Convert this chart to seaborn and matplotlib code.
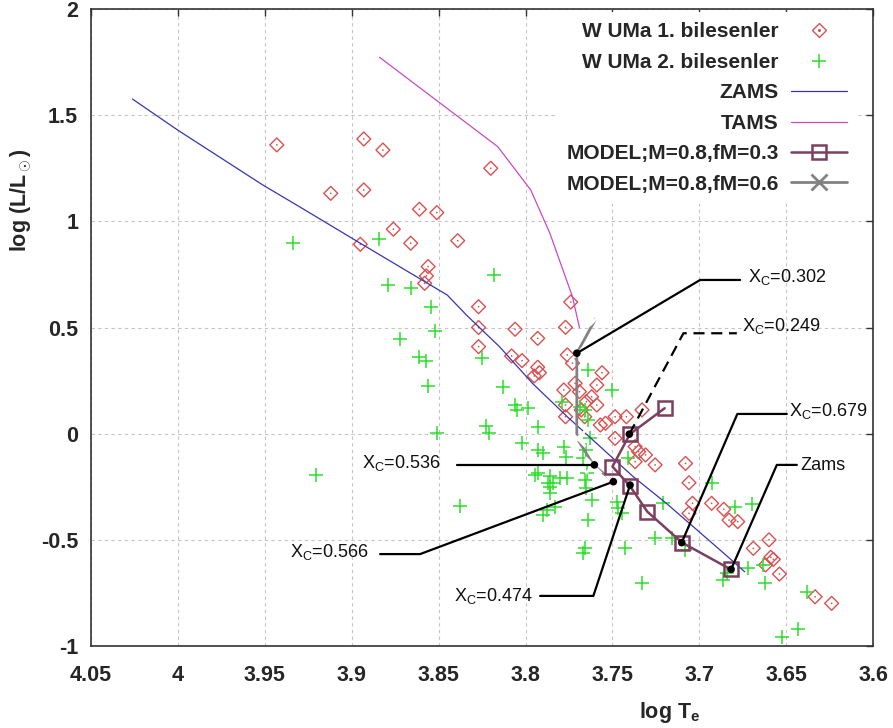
import numpy as np
import pandas as pd
import matplotlib
matplotlib.use("Agg")
import matplotlib.pyplot as plt
import seaborn as sns
from matplotlib.lines import Line2D
from matplotlib.legend_handler import HandlerTuple
from matplotlib.ticker import FuncFormatter, MultipleLocator

# ---------------- data ----------------
prim_logT = [3.943, 3.893, 3.882, 3.912, 3.893, 3.861, 3.851, 3.820, 3.876, 3.866,
             3.839, 3.895, 3.856, 3.857, 3.858, 3.827, 3.827, 3.827, 3.774, 3.777,
             3.806, 3.793, 3.808, 3.802, 3.793, 3.792, 3.795, 3.776, 3.773, 3.756,
             3.759, 3.7715, 3.778, 3.769, 3.762, 3.765, 3.759, 3.777, 3.768, 3.777,
             3.766, 3.757, 3.754, 3.7485, 3.742, 3.733, 3.7485, 3.737, 3.735, 3.731,
             3.737, 3.7255, 3.708, 3.706, 3.704, 3.706, 3.693, 3.686, 3.683, 3.678,
             3.660, 3.669, 3.659, 3.6575, 3.662, 3.654, 3.6335, 3.624]
prim_logL = [1.36, 1.388, 1.336, 1.132, 1.148, 1.057, 1.041, 1.25, 0.963, 0.897,
             0.909, 0.892, 0.787, 0.743, 0.708, 0.598, 0.50, 0.41, 0.62, 0.501,
             0.492, 0.449, 0.366, 0.344, 0.313, 0.287, 0.272, 0.371, 0.332, 0.287,
             0.229, 0.237, 0.206, 0.198, 0.174, 0.151, 0.135, 0.135, 0.112, 0.08,
             0.08, 0.041, 0.049, 0.08, 0.08, 0.112, -0.022, -0.061, -0.085, -0.10,
             -0.132, -0.147, -0.14, -0.231, -0.328, -0.375, -0.328, -0.356, -0.407, -0.414,
             -0.50, -0.54, -0.582, -0.592, -0.618, -0.661, -0.768, -0.799]

sec_logT = [3.9335, 3.884, 3.879, 3.866, 3.8543, 3.852, 3.872, 3.861, 3.857, 3.856,
            3.818, 3.825, 3.851, 3.823, 3.821, 3.9205, 3.8377, 3.8127, 3.806, 3.805,
            3.7987, 3.7926, 3.802, 3.7926, 3.790, 3.778, 3.7945, 3.786, 3.780, 3.776,
            3.786, 3.7657, 3.765, 3.765, 3.767, 3.764, 3.7686, 3.7878, 3.783, 3.790,
            3.764, 3.7657, 3.767, 3.7504, 3.779, 3.7638, 3.763, 3.7408, 3.7648, 3.7859,
            3.7475, 3.7207, 3.693, 3.670, 3.6795, 3.7466, 3.7447, 3.7427, 3.7255, 3.716,
            3.7082, 3.733, 3.6843, 3.6862, 3.6718, 3.6632, 3.6622, 3.6383, 3.6434, 3.6526,
            3.784, 3.777, 3.7615, 3.766, 3.7926, 3.787]
sec_logL = [0.897, 0.919, 0.699, 0.686, 0.595, 0.484, 0.446, 0.363, 0.344, 0.226,
            0.746, 0.355, 0.002, 0.036, 0.005, -0.195, -0.34, 0.218, 0.135, 0.112,
            0.12, 0.033, -0.042, -0.077, -0.092, -0.061, -0.195, -0.20, -0.21, -0.21,
            -0.25, -0.218, -0.256, -0.077, -0.116, 0.30, 0.127, -0.36, -0.347, -0.383,
            -0.407, -0.54, -0.563, 0.206, 0.151, 0.065, -0.022, -0.116, -0.187, -0.281,
            -0.32, -0.328, -0.23, -0.33, -0.344, -0.351, -0.375, -0.54, -0.493, -0.493,
            -0.548, -0.705, -0.658, -0.689, -0.634, -0.618, -0.705, -0.744, -0.921, -0.956,
            -0.234, -0.108, -0.312, 0.112, -0.187, -0.234]

zams_logT = [4.026, 4.000, 3.951, 3.930, 3.895, 3.845, 3.834, 3.815, 3.796, 3.776,
             3.738, 3.719, 3.686, 3.674]
zams_logL = [1.576, 1.43, 1.171, 1.069, 0.897, 0.653, 0.559, 0.41, 0.237, 0.08,
             -0.203, -0.328, -0.563, -0.65]

tams_logT = [3.884, 3.816, 3.797, 3.786, 3.773, 3.769]
tams_logL = [1.773, 1.352, 1.148, 0.944, 0.645, 0.50]

m03_logT = [3.682, 3.710, 3.730, 3.740, 3.750, 3.740, 3.720]
m03_logL = [-0.639, -0.513, -0.367, -0.246, -0.155, -0.002, 0.12]

m06_logT = [3.7495, 3.761, 3.7705, 3.7705, 3.759]
m06_logL = [-0.226, -0.147, -0.02, 0.379, 0.551]

xc_labels = ["X$_\\mathrm{C}$=0.302", "X$_\\mathrm{C}$=0.249", "X$_\\mathrm{C}$=0.679", "Zams",
             "X$_\\mathrm{C}$=0.536", "X$_\\mathrm{C}$=0.566", "X$_\\mathrm{C}$=0.474"]
xc_logT = [3.7705, 3.7403, 3.7102, 3.6818, 3.7604, 3.7495, 3.7399]
xc_logL = [0.379, -0.002, -0.513, -0.639, -0.147, -0.226, -0.242]

legend_labels = ["W UMa 1. bilesenler", "W UMa 2. bilesenler", "ZAMS", "TAMS",
                 "MODEL;M=0.8,fM=0.3", "MODEL;M=0.8,fM=0.6"]

# ---------------- layout of the annotation leaders (elbow, end, text anchor, align, style) ----
leader_layout = [
    ((3.6996, 0.724), 3.6766, (3.672, 0.74), "left", "-"),
    ((3.7092, 0.473), 3.6785, (3.6755, 0.505), "left", "--"),
    ((3.6782, 0.093), 3.6498, (3.6485, 0.108), "left", "-"),
    ((3.6555, -0.147), 3.644, (3.642, -0.152), "left", "-"),
    (None, 3.8395, (3.849, -0.138), "right", "-"),
    ((3.8606, -0.567), 3.8836, (3.890, -0.556), "right", "-"),
    ((3.761, -0.764), 3.7916, (3.7957, -0.766), "right", "-"),
]

# ---------------- styling ----------------
sns.set_theme(style="white")
plt.rcParams['font.family'] = ['Liberation Sans', 'DejaVu Sans']
plt.rcParams['mathtext.fontset'] = 'custom'
plt.rcParams['mathtext.rm'] = 'Liberation Sans'
plt.rcParams['mathtext.it'] = 'Liberation Sans:italic'
plt.rcParams['mathtext.bf'] = 'Liberation Sans:bold'

C_PRIM = "#dc5050"
C_SEC = "#2adf2a"
C_ZAMS = "#3535b5"
C_TAMS = "#c84ac8"
C_M03 = "#7d3f5e"
C_M06 = "#828282"

fig = plt.figure(figsize=(8.93, 7.28), dpi=100)
ax = fig.add_axes([0.1016, 0.1126, 0.8764, 0.875])

prim = pd.DataFrame({"logT": prim_logT, "logL": prim_logL})
sec = pd.DataFrame({"logT": sec_logT, "logL": sec_logL})
zams = pd.DataFrame({"logT": zams_logT, "logL": zams_logL})
tams = pd.DataFrame({"logT": tams_logT, "logL": tams_logL})
m03 = pd.DataFrame({"logT": m03_logT, "logL": m03_logL})
m06 = pd.DataFrame({"logT": m06_logT, "logL": m06_logL})
xc = pd.DataFrame({"logT": xc_logT, "logL": xc_logL})

sns.scatterplot(data=prim, x="logT", y="logL", marker="D", s=50, facecolor="none",
                edgecolor=C_PRIM, linewidth=1.0, ax=ax, zorder=3)
sns.scatterplot(data=prim, x="logT", y="logL", marker="o", s=1.5, color=C_PRIM,
                edgecolor="none", linewidth=0, ax=ax, zorder=3)
sns.scatterplot(data=sec, x="logT", y="logL", marker="+", s=100, color=C_SEC,
                edgecolor=None, linewidth=1.1, ax=ax, zorder=3)

sns.lineplot(data=zams, x="logT", y="logL", sort=False, estimator=None, color=C_ZAMS,
             lw=0.9, ax=ax, zorder=3)
sns.lineplot(data=tams, x="logT", y="logL", sort=False, estimator=None, color=C_TAMS,
             lw=0.9, ax=ax, zorder=3)
sns.lineplot(data=m06, x="logT", y="logL", sort=False, estimator=None, color=C_M06,
             lw=2.0, marker="x", markersize=11, markeredgewidth=2.0, ax=ax, zorder=4)
sns.lineplot(data=m03, x="logT", y="logL", sort=False, estimator=None, color=C_M03,
             lw=1.8, marker="s", markersize=10, markerfacecolor="none",
             markeredgecolor=C_M03, markeredgewidth=1.8, ax=ax, zorder=4)

# annotation leaders
for (lab, T, L, lay) in zip(xc_labels, xc_logT, xc_logL, leader_layout):
    elbow, xend, txy, ha, ls = lay
    if elbow is None:
        xs, ys = [T, xend], [L, L]
    else:
        xs, ys = [T, elbow[0], xend], [L, elbow[1], elbow[1]]
    ax.plot(xs, ys, color="black", lw=1.6, ls=(0, (5, 3)) if ls == "--" else "-", zorder=5)
    ax.text(txy[0], txy[1], lab, ha=ha, va="center", fontsize=13, color="#111111", zorder=6)

sns.scatterplot(data=xc, x="logT", y="logL", marker="o", s=30, color="black",
                edgecolor="none", ax=ax, zorder=7)

# axes
ax.set_xlim(4.05, 3.6)
ax.set_ylim(-1, 2)
ax.xaxis.set_major_locator(MultipleLocator(0.05))
ax.yaxis.set_major_locator(MultipleLocator(0.5))
fmt = FuncFormatter(lambda v, p: "%g" % round(v, 3))
ax.xaxis.set_major_formatter(fmt)
ax.yaxis.set_major_formatter(fmt)
ax.grid(True, color="#c4c4c4", ls=(0, (3, 3)), lw=0.8)
ax.tick_params(axis="both", direction="in", length=5, width=1, color="#333333",
               top=True, right=True, labelsize=15.5)
ax.tick_params(axis="x", pad=14)
ax.tick_params(axis="y", pad=9)
for t in ax.get_xticklabels() + ax.get_yticklabels():
    t.set_fontweight("bold")
for s in ax.spines.values():
    s.set_color("#333333")
    s.set_linewidth(1.2)

ax.set_xlabel(r"log T$_\mathbf{e}$", fontsize=15.5, fontweight="bold")
ax.set_ylabel(r"log (L/L$_\odot$)", fontsize=15.5, fontweight="bold")
ax.xaxis.set_label_coords(0.74, -0.085)
ax.yaxis.set_label_coords(-0.072, 0.70)

# legend
h1 = (Line2D([], [], ls="", marker="D", ms=7, mfc="none", mec=C_PRIM, mew=1.0),
      Line2D([], [], ls="", marker="o", ms=1.2, color=C_PRIM))
h2 = Line2D([], [], ls="", marker="+", ms=10, mec=C_SEC, mew=1.1)
h3 = Line2D([], [], color=C_ZAMS, lw=0.9)
h4 = Line2D([], [], color=C_TAMS, lw=0.9)
h5 = Line2D([], [], color=C_M03, lw=1.8, marker="s", ms=10, mfc="none", mec=C_M03, mew=1.8)
h6 = Line2D([], [], color=C_M06, lw=2.0, marker="x", ms=11, mec=C_M06, mew=2.0)
leg = ax.legend([h1, h2, h3, h4, h5, h6], legend_labels,
                handler_map={tuple: HandlerTuple(ndivide=1)},
                loc="upper right", bbox_to_anchor=(857 / 893, 716 / 728),
                bbox_transform=fig.transFigure, borderaxespad=0, markerfirst=False,
                frameon=True, facecolor="white", edgecolor="none", framealpha=1,
                fancybox=False, borderpad=0.5, handlelength=2.65, handletextpad=0.6,
                labelspacing=0.55, numpoints=1, prop={"weight": "bold", "size": 15})

fig.savefig("out.png", dpi=100)
